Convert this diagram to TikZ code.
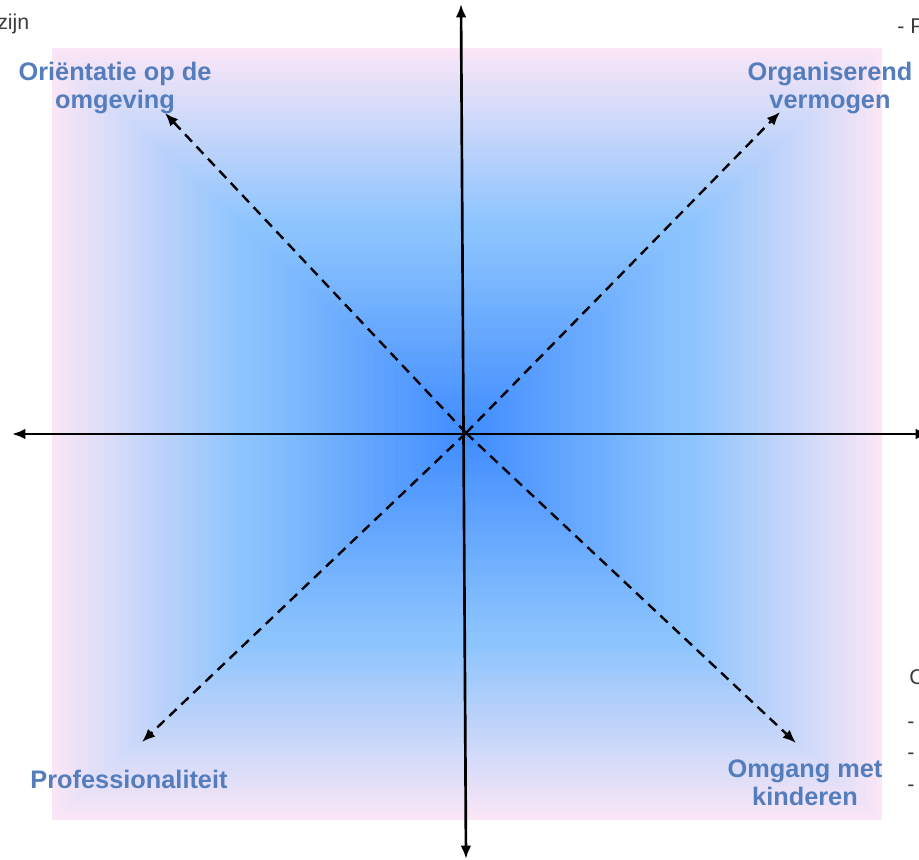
\documentclass[tikz,border=0pt]{standalone}
\usepackage{fontspec}
\setmainfont{Liberation Sans}
\usetikzlibrary{arrows,arrows.meta,positioning}
\definecolor{coreblue}{RGB}{64,140,255}
\definecolor{midblue}{RGB}{140,196,254}
\definecolor{edgepink}{RGB}{250,230,246}
\definecolor{labelblue}{RGB}{84,125,190}
\definecolor{sidetext}{RGB}{60,60,60}

\begin{document}
\begin{tikzpicture}[x=0.75pt,y=-0.75pt]
  \tikzset{
    axis/.style={{Latex[length=10pt,width=8pt]}-{Latex[length=10pt,width=8pt]},line width=2pt,black},
    diag/.style={-{Latex[length=10pt,width=8pt]},line width=1.8pt,black,dash pattern=on 7.5pt off 5pt},
    dimension/.style={text=labelblue,font=\fontsize{19}{21}\selectfont\bfseries,align=center,inner sep=1pt},
    cuttext/.style={text=sidetext,font=\fontsize{16}{18}\selectfont,inner sep=0pt}
  }
  \useasboundingbox (0,0) rectangle (919,859);
  % shaded field, from the rim inwards
  \foreach \i in {80,...,1}{
    \pgfmathsetmacro\t{\i/80}
    \pgfmathtruncatemacro\pa{min(100,190*\t)}
    \pgfmathtruncatemacro\pb{max(0,220*\t-120)}
    \colorlet{fieldinner}{midblue!\pa!coreblue}
    \colorlet{fieldcur}{edgepink!\pb!fieldinner}
    \fill[fieldcur] (467-415*\t,434-386*\t) rectangle (467+415*\t,434+386*\t);
  }

  \coordinate (o) at (466,433);
  \coordinate (n) at (461,4);
  \coordinate (s) at (466,859);
  \coordinate (w) at (12,434);
  \coordinate (e) at (929,434);
  \coordinate (nw) at (165,113);
  \coordinate (ne) at (780,112);
  \coordinate (sw) at (142,742);
  \coordinate (se) at (796,743);

  \draw[axis] (s) -- (n);
  \draw[axis] (w) -- (e);
  \draw[diag] (o) -- (nw);
  \draw[diag] (o) -- (ne);
  \draw[diag] (o) -- (sw);
  \draw[diag] (o) -- (se);

  \node at (115,88) [dimension] (omgeving) {Oriëntatie op de\\omgeving};
  \node at (830,88) [dimension] (organiserend) {Organiserend\\vermogen};
  \node at (129,779) [dimension] (professioneel) {Professionaliteit};
  \node at (805,783) [dimension] (kinderen) {Omgang met\\kinderen};

  % text cut off at the edges
  \node at (-3,30) [cuttext,anchor=base west] (zijn) {zijn};
  \node at (897,34) [cuttext,anchor=base west] (puntP) {- P};
  \node at (909,684) [cuttext,anchor=base west] (kopC) {C};
  \node at (907,728) [cuttext,anchor=base west] (streep1) {-};
  \node at (907,759) [cuttext,anchor=base west] (streep2) {-};
  \node at (907,791) [cuttext,anchor=base west] (streep3) {-};
\end{tikzpicture}
\end{document}
